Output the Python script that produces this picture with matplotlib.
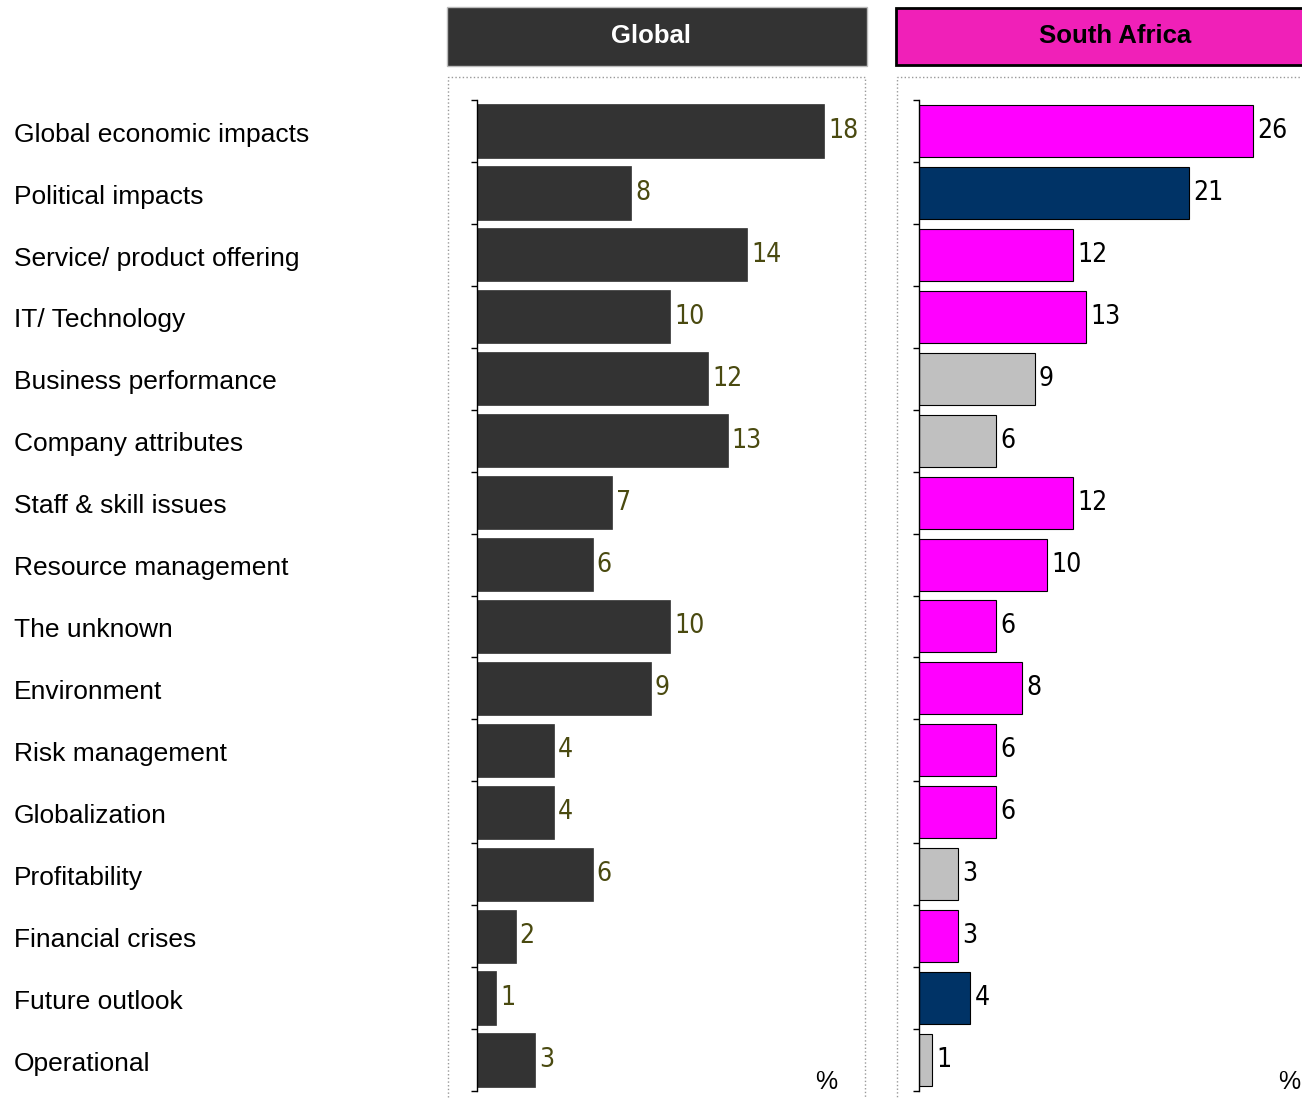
import matplotlib
matplotlib.use("Agg")
import matplotlib.pyplot as plt
from matplotlib import font_manager
from matplotlib.patches import Rectangle
from matplotlib.transforms import blended_transform_factory

categories = [
    "Global economic impacts", "Political impacts", "Service/ product offering",
    "IT/ Technology", "Business performance", "Company attributes",
    "Staff & skill issues", "Resource management", "The unknown", "Environment",
    "Risk management", "Globalization", "Profitability", "Financial crises",
    "Future outlook", "Operational",
]
global_vals = [18, 8, 14, 10, 12, 13, 7, 6, 10, 9, 4, 4, 6, 2, 1, 3]
sa_vals = [26, 21, 12, 13, 9, 6, 12, 10, 6, 8, 6, 6, 3, 3, 4, 1]
sa_groups = ["m", "n", "m", "m", "g", "g", "m", "m", "m", "m", "m", "m", "g", "m", "n", "g"]

group_colors = {"m": "#FF00FF", "n": "#003366", "g": "#C0C0C0"}
label_font = ["Liberation Sans", "DejaVu Sans"]

# condensed face for the value labels, if one is installed
cond = [f for f in font_manager.fontManager.ttflist
        if ("Narrow" in f.name or f.stretch in ("condensed", "semi-condensed"))
        and f.weight in (400, "normal") and f.style == "normal"]
num_prop = font_manager.FontProperties(fname=cond[0].fname, size=19) if cond else \
    font_manager.FontProperties(family=label_font, size=17)

W, H = 1302, 1099
fig = plt.figure(figsize=(W / 100, H / 100), dpi=100)


def fx(px):
    return px / W


def fy(py):
    return 1 - py / H


def make_axes(left, right, px_per_unit):
    ax = fig.add_axes([fx(left), fy(1091), fx(right - left), fy(100) - fy(1091)])
    ax.set_xlim(0, (right - left) / px_per_unit)
    ax.set_ylim(len(categories), 0)
    for s in ["top", "right", "bottom"]:
        ax.spines[s].set_visible(False)
    ax.spines["left"].set_linewidth(1.0)
    ax.set_xticks([])
    ax.set_yticks(range(len(categories) + 1))
    ax.set_yticklabels([])
    ax.tick_params(axis="y", length=4, width=1, direction="out")
    ax.patch.set_alpha(0)
    return ax


pos = [i + 0.5 for i in range(len(categories))]

# Global panel
ax1 = make_axes(477, 850, (824 - 477) / 18)
ax1.barh(pos, global_vals, height=0.86, color="#333333", edgecolor="#333333", linewidth=0.5)
for y, v in zip(pos, global_vals):
    ax1.annotate(str(v), (v, y), xytext=(3, 0), textcoords="offset points",
                 ha="left", va="center", color="#4A4A10", fontproperties=num_prop)
fig.text(fx(826), fy(1082), "%", fontsize=18, ha="center", va="center", family=label_font)

# South Africa panel
ax2 = make_axes(919, 1300, (1253 - 919) / 26)
ax2.barh(pos, sa_vals, height=0.84, color=[group_colors[g] for g in sa_groups],
         edgecolor="black", linewidth=0.8)
for y, v in zip(pos, sa_vals):
    ax2.annotate(str(v), (v, y), xytext=(3, 0), textcoords="offset points",
                 ha="left", va="center", color="black", fontproperties=num_prop)
fig.text(fx(1289), fy(1082), "%", fontsize=18, ha="center", va="center", family=label_font)

# category labels
tr = blended_transform_factory(fig.transFigure, ax1.transData)
for y, c in zip(pos, categories):
    fig.text(fx(14), y + 0.06, c, transform=tr, ha="left", va="center", fontsize=19,
             family=label_font)

# headers and dotted frames
fig.patches.append(Rectangle((fx(447), fy(66)), fx(420), fy(7) - fy(66), transform=fig.transFigure,
                             facecolor="#333333", edgecolor="#BBBBBB", linewidth=1))
fig.text(fx(651), fy(36), "Global", ha="center", va="center", fontsize=18.5, weight="bold",
         color="white", family=label_font)
fig.patches.append(Rectangle((fx(896), fy(65)), fx(420), fy(8) - fy(65), transform=fig.transFigure,
                             facecolor="#F020B8", edgecolor="black", linewidth=2))
fig.text(fx(1115), fy(36), "South Africa", ha="center", va="center", fontsize=18.5, weight="bold",
         color="black", family=label_font)
fig.patches.append(Rectangle((fx(448), fy(1110)), fx(417), fy(77) - fy(1110), transform=fig.transFigure,
                             facecolor="none", edgecolor="#999999", linewidth=1, linestyle=":"))
fig.patches.append(Rectangle((fx(897), fy(1110)), fx(420), fy(77) - fy(1110), transform=fig.transFigure,
                             facecolor="none", edgecolor="#999999", linewidth=1, linestyle=":"))

fig.savefig("out.png", dpi=100)
